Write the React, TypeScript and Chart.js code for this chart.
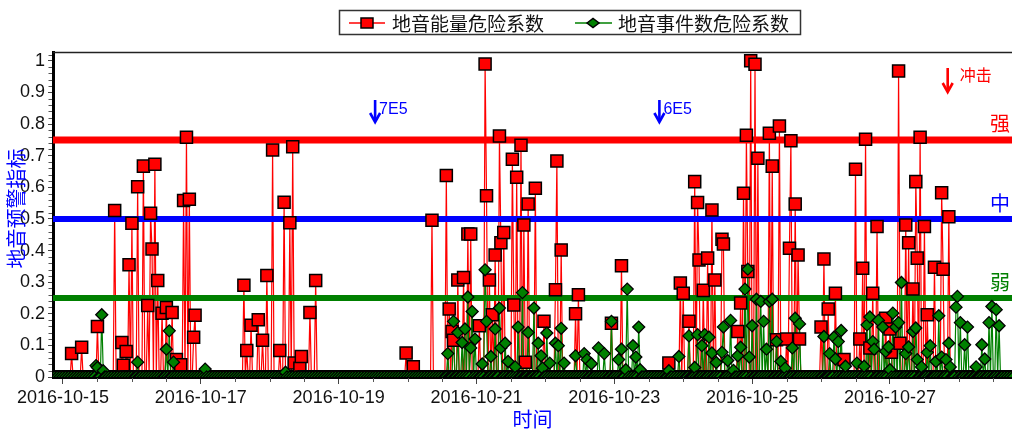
import React, { useEffect, useRef } from 'react';
import { Chart, registerables } from 'chart.js';

Chart.register(...registerables);

// [hour of day, value]
type Pt = [number, number];

const DAY_LABELS = [
  '2016-10-15', '2016-10-16', '2016-10-17', '2016-10-18', '2016-10-19', '2016-10-20', '2016-10-21',
  '2016-10-22', '2016-10-23', '2016-10-24', '2016-10-25', '2016-10-26', '2016-10-27', '2016-10-28',
];
const X_TICK_HOURS = [0, 48, 96, 144, 192, 240, 288];
const Y_TICKS = [0, 0.1, 0.2, 0.3, 0.4, 0.5, 0.6, 0.7, 0.8, 0.9, 1];
const SERIES_NAMES = ['地音能量危险系数', '地音事件数危险系数'];
const AXIS_X_TITLE = '时间';
const AXIS_Y_TITLE = '地音预警指标';
const X_MIN_H = -3.48;
const X_MAX_H = 330.5;
const Y_MAX = 1.028;

const THRESHOLD_VALUES = [0.75, 0.5, 0.25];
const THRESHOLD_LABELS = ['强', '中', '弱'];
const EVENT_HOURS = [108.7, 207.7, 308.1];
const EVENT_LABELS = ['7E5', '6E5', '冲击'];

// 地音能量危险系数 (non-zero readings per day, half-hour resolution)
const energy_1015: Pt[] = [[3, 0.074], [6.5, 0.094], [12, 0.16], [18, 0.527], [20.5, 0.109], [21, 0.037], [22, 0.081], [23, 0.355]];
const energy_1016: Pt[] = [[0, 0.486], [2, 0.602], [4, 0.667], [5.5, 0.226], [6.5, 0.518], [7, 0.405], [8, 0.673], [9, 0.305], [10.5, 0.202], [12, 0.22], [14, 0.204], [15.5, 0.055], [17, 0.039], [18, 0.558], [19, 0.758], [20, 0.562], [21.5, 0.126], [22, 0.195]];
const energy_1017: Pt[] = [[15, 0.29], [16, 0.084], [17.5, 0.164], [20, 0.181], [21.5, 0.116], [23, 0.321]];
const energy_1018: Pt[] = [[1, 0.718], [3.5, 0.084], [5, 0.553], [7, 0.488], [8, 0.728], [8.5, 0.044], [10.5, 0.028], [11, 0.065], [14, 0.204], [16, 0.305]];
const energy_1019: Pt[] = [[23.5, 0.076]];
const energy_1020: Pt[] = [[2, 0.032], [8.5, 0.496], [13.5, 0.637], [14.5, 0.215], [15.5, 0.144], [16, 0.116], [17.5, 0.307], [19.5, 0.315], [21, 0.452], [22, 0.452]];
const energy_1021: Pt[] = [[1, 0.162], [3, 0.99], [3.5, 0.573], [4.5, 0.307], [5.5, 0.197], [6.5, 0.386], [8, 0.762], [8.5, 0.425], [9.5, 0.457], [12.5, 0.689], [13, 0.228], [14, 0.632], [15.5, 0.733], [16.5, 0.481], [17, 0.047], [18, 0.547], [20.5, 0.597], [23.5, 0.176]];
const energy_1022: Pt[] = [[3.5, 0.276], [4, 0.683], [5.5, 0.402], [10.5, 0.2], [11.5, 0.26], [23, 0.17]];
const energy_1023: Pt[] = [[2.5, 0.352], [19, 0.044], [23, 0.297]];
const energy_1024: Pt[] = [[0, 0.265], [2, 0.176], [4, 0.618], [5, 0.552], [5.5, 0.37], [7, 0.274], [8.5, 0.376], [10, 0.528], [11, 0.307], [13.5, 0.436], [14, 0.421], [19, 0.144], [20, 0.234], [21, 0.581], [22, 0.765], [22.5, 0.334], [23.5, 1.0]];
const energy_1025: Pt[] = [[1, 0.989], [2, 0.692], [6, 0.771], [7, 0.667], [8.5, 0.118], [9.5, 0.794], [12, 0.12], [13, 0.407], [13.5, 0.747], [15, 0.547], [16, 0.386], [16.5, 0.12]];
const energy_1026: Pt[] = [[0, 0.158], [1, 0.373], [2.5, 0.215], [5, 0.265], [8, 0.055], [12, 0.657], [13.5, 0.12], [14.5, 0.344], [15.5, 0.752], [17, 0.092], [18, 0.265], [19.5, 0.476], [22.5, 0.186]];
const energy_1027: Pt[] = [[0, 0.152], [0.5, 0.078], [3, 0.968], [3.5, 0.107], [5.5, 0.481], [6.5, 0.425], [8, 0.278], [9, 0.618], [9.5, 0.376], [10.5, 0.758], [12, 0.476], [13, 0.197], [15.5, 0.347], [18, 0.583], [18.5, 0.341], [20.5, 0.507]];
const energy_1028: Pt[] = [];

// 地音事件数危险系数 (non-zero readings per day, half-hour resolution)
const events_1015: Pt[] = [[11.5, 0.036], [12, 0.03], [13.5, 0.197], [14, 0.02]];
const events_1016: Pt[] = [[2, 0.047], [12, 0.088], [13, 0.146], [14.5, 0.047]];
const events_1017: Pt[] = [[1.5, 0.025]];
const events_1018: Pt[] = [[5.5, 0.015]];
const events_1019: Pt[] = [];
const events_1020: Pt[] = [[14, 0.074], [16, 0.176], [17.5, 0.141], [19, 0.109], [20, 0.152], [21, 0.253], [22, 0.092], [22.5, 0.207], [23.5, 0.12]];
const events_1021: Pt[] = [[2, 0.041], [3, 0.339], [3.5, 0.176], [5, 0.065], [6.5, 0.152], [8, 0.218], [8.5, 0.092], [10, 0.107], [11, 0.049], [13.5, 0.032], [14.5, 0.158], [16, 0.267], [18, 0.141], [20, 0.218], [21.5, 0.107], [22.5, 0.067], [23, 0.028]];
const events_1022: Pt[] = [[0.5, 0.139], [1.5, 0.044], [3.5, 0.107], [4.5, 0.099], [5.5, 0.154], [6.5, 0.044], [10.5, 0.067], [13.5, 0.074], [14.5, 0.055], [16, 0.042], [18.5, 0.092], [20.5, 0.074], [23, 0.176]];
const events_1023: Pt[] = [[1.5, 0.055], [2.5, 0.088], [4, 0.023], [4.5, 0.278], [6.5, 0.099], [7.5, 0.063], [8.5, 0.158], [9, 0.023], [19, 0.02], [22.5, 0.065]];
const events_1024: Pt[] = [[2, 0.13], [4, 0.03], [5, 0.134], [6.5, 0.099], [7.5, 0.134], [9, 0.126], [10, 0.076], [11.5, 0.046], [13.5, 0.078], [14, 0.158], [15.5, 0.052], [16.5, 0.179], [17.5, 0.021], [19, 0.067], [20, 0.094], [21.5, 0.278], [22.5, 0.341], [23, 0.063]];
const events_1025: Pt[] = [[0, 0.162], [1.5, 0.246], [3, 0.239], [4, 0.176], [5, 0.088], [6, 0.239], [7, 0.246], [8.5, 0.112], [10, 0.049], [11.5, 0.028], [14, 0.092], [15, 0.186], [16.5, 0.168]];
const events_1026: Pt[] = [[1, 0.128], [3, 0.074], [4.5, 0.126], [5, 0.057], [6, 0.112], [7, 0.147], [8.5, 0.034], [12.5, 0.044], [15, 0.034], [16, 0.165], [17, 0.19], [18, 0.112], [18.5, 0.088], [20, 0.179], [21.5, 0.158], [22.5, 0.081], [23.5, 0.095]];
const events_1027: Pt[] = [[0, 0.023], [1, 0.202], [2, 0.158], [3, 0.172], [4, 0.299], [5.5, 0.074], [6.5, 0.095], [8, 0.144], [9, 0.155], [9.5, 0.055], [11, 0.032], [13, 0.078], [14, 0.099], [16, 0.049], [17, 0.194], [18, 0.063], [19.5, 0.055], [20.5, 0.107], [21, 0.032], [23, 0.221], [23.5, 0.255]];
const events_1028: Pt[] = [[0.5, 0.172], [2, 0.102], [3, 0.158], [6, 0.032], [8, 0.102], [9, 0.057], [10.5, 0.172], [11.5, 0.223], [13, 0.213], [14, 0.162]];

const energyDays = [energy_1015, energy_1016, energy_1017, energy_1018, energy_1019, energy_1020, energy_1021, energy_1022, energy_1023, energy_1024, energy_1025, energy_1026, energy_1027, energy_1028];
const eventsDays = [events_1015, events_1016, events_1017, events_1018, events_1019, events_1020, events_1021, events_1022, events_1023, events_1024, events_1025, events_1026, events_1027, events_1028];

// Hourly readings read 0 unless listed above; a listed half-hour reading
// drops back to 0 in the neighbouring half-hour.
function buildSeries(days: Pt[][]) {
  const m = new Map<number, number>();
  days.forEach((pts, d) => pts.forEach(([hr, v]) => m.set(Math.round((d * 24 + hr) * 2), v)));
  const out: { x: number; y: number }[] = [];
  const k0 = Math.floor(X_MIN_H * 2);
  const k1 = Math.ceil(X_MAX_H * 2) + 2;
  for (let k = k0; k <= k1; k++) {
    const v = m.get(k);
    if (v !== undefined) out.push({ x: k / 2, y: v });
    else if (Math.abs(k % 2) === 0 || m.has(k - 1) || m.has(k + 1)) out.push({ x: k / 2, y: 0 });
  }
  return out;
}

const LATIN = '"Liberation Sans", Arial, sans-serif';
const CJK = '"Noto Sans CJK SC", "Noto Sans", sans-serif';
const TH_COLORS = ['#FF0000', '#0000FF', '#008000'];
const TH_WIDTHS = [7, 6, 6];

const overlayPlugin = {
  id: 'overlay',
  afterDatasetDraw(chart: any, args: any) {
    if (args.index !== 1) return;
    const { ctx, chartArea: a } = chart;
    const y = chart.scales.y;
    ctx.save();
    ctx.beginPath();
    ctx.rect(a.left, a.top, a.right - a.left, a.bottom - a.top);
    ctx.clip();
    THRESHOLD_VALUES.forEach((v, i) => {
      const py = y.getPixelForValue(v);
      ctx.strokeStyle = TH_COLORS[i];
      ctx.lineWidth = TH_WIDTHS[i];
      ctx.beginPath();
      ctx.moveTo(a.left, py);
      ctx.lineTo(a.right, py);
      ctx.stroke();
    });
    ctx.restore();
  },
  afterDraw(chart: any) {
    const { ctx, chartArea: a } = chart;
    const x = chart.scales.x;
    const y = chart.scales.y;
    ctx.save();

    // top frame line
    ctx.strokeStyle = '#222';
    ctx.lineWidth = 1.3;
    ctx.beginPath();
    ctx.moveTo(a.left, a.top + 0.5);
    ctx.lineTo(a.right, a.top + 0.5);
    ctx.stroke();

    // minor ticks
    ctx.strokeStyle = '#555';
    ctx.lineWidth = 1;
    for (let i = 1; i <= 51; i++) {
      if (i % 5 === 0) continue;
      const v = i * 0.02;
      if (v > Y_MAX) break;
      const py = Math.round(y.getPixelForValue(v)) + 0.5;
      ctx.beginPath();
      ctx.moveTo(a.left - 4.5, py);
      ctx.lineTo(a.left - 1, py);
      ctx.stroke();
    }
    for (let h = 12; h <= X_MAX_H; h += 12) {
      if (h % 48 === 0) continue;
      const px = Math.round(x.getPixelForValue(h)) + 0.5;
      ctx.beginPath();
      ctx.moveTo(px, a.bottom + 1);
      ctx.lineTo(px, a.bottom + 5);
      ctx.stroke();
    }

    // threshold labels
    ctx.textAlign = 'center';
    ctx.textBaseline = 'middle';
    ctx.font = `20px ${CJK}`;
    THRESHOLD_VALUES.forEach((v, i) => {
      ctx.fillStyle = TH_COLORS[i];
      ctx.fillText(THRESHOLD_LABELS[i], 1000, y.getPixelForValue(v) - 16);
    });

    // event arrows
    const drawArrow = (px: number, top: number, bottom: number, color: string) => {
      ctx.strokeStyle = color;
      ctx.lineWidth = 2.6;
      ctx.lineCap = 'butt';
      ctx.beginPath();
      ctx.moveTo(px, top);
      ctx.lineTo(px, bottom - 2);
      ctx.stroke();
      ctx.lineJoin = 'miter';
      ctx.beginPath();
      ctx.moveTo(px - 5, bottom - 10);
      ctx.lineTo(px, bottom - 1);
      ctx.lineTo(px + 5, bottom - 10);
      ctx.stroke();
    };
    EVENT_HOURS.forEach((h, i) => {
      const px = x.getPixelForValue(h);
      const isImpact = i === EVENT_HOURS.length - 1;
      if (isImpact) {
        drawArrow(px, 68, 93, '#FF0000');
        ctx.fillStyle = '#FF0000';
        ctx.font = `16px ${CJK}`;
        ctx.textAlign = 'left';
        ctx.textBaseline = 'middle';
        ctx.fillText(EVENT_LABELS[i], px + 12, 75);
      } else {
        drawArrow(px, 100, 123, '#0000FF');
        ctx.fillStyle = '#0000FF';
        ctx.font = `16px ${LATIN}`;
        ctx.textAlign = 'left';
        ctx.textBaseline = 'alphabetic';
        ctx.fillText(EVENT_LABELS[i], px + 4, 113.5);
      }
    });

    // axis titles
    ctx.fillStyle = '#0000FF';
    ctx.font = `20px ${CJK}`;
    ctx.textAlign = 'center';
    ctx.textBaseline = 'middle';
    ctx.fillText(AXIS_X_TITLE, (a.left + a.right) / 2, 419);
    ctx.save();
    ctx.translate(16.5, 208.5);
    ctx.rotate(-Math.PI / 2);
    ctx.fillText(AXIS_Y_TITLE, 0, 0);
    ctx.restore();

    // legend
    ctx.strokeStyle = '#333';
    ctx.lineWidth = 1.5;
    ctx.strokeRect(339.5, 10.5, 461, 24);
    const ly = 23;
    ctx.strokeStyle = '#FF0000';
    ctx.beginPath();
    ctx.moveTo(349, ly);
    ctx.lineTo(385, ly);
    ctx.stroke();
    ctx.fillStyle = '#FF0000';
    ctx.fillRect(361, ly - 5, 12, 10);
    ctx.strokeStyle = '#000';
    ctx.strokeRect(361, ly - 5, 12, 10);
    ctx.strokeStyle = '#008000';
    ctx.beginPath();
    ctx.moveTo(575, ly);
    ctx.lineTo(612, ly);
    ctx.stroke();
    ctx.fillStyle = '#008000';
    ctx.beginPath();
    ctx.moveTo(593 - 6, ly);
    ctx.lineTo(593, ly - 4.5);
    ctx.lineTo(593 + 6, ly);
    ctx.lineTo(593, ly + 4.5);
    ctx.closePath();
    ctx.fill();
    ctx.strokeStyle = '#000';
    ctx.stroke();
    ctx.fillStyle = '#111';
    ctx.font = `19px ${CJK}`;
    ctx.textAlign = 'left';
    ctx.textBaseline = 'middle';
    ctx.fillText(SERIES_NAMES[0], 392, ly + 0.5);
    ctx.fillText(SERIES_NAMES[1], 618, ly + 0.5);

    ctx.restore();
  },
};

export default function App() {
  const ref = useRef<HTMLCanvasElement | null>(null);

  useEffect(() => {
    if (!ref.current) return;
    const energy = buildSeries(energyDays);
    const events = buildSeries(eventsDays);
    const chart = new Chart(ref.current, {
      type: 'line',
      data: {
        datasets: [
          { label: SERIES_NAMES[0], data: energy, borderColor: '#FF0000', borderWidth: 1.2, pointRadius: 0, order: 4 },
          { label: SERIES_NAMES[1], data: events, borderColor: '#008000', borderWidth: 1.2, pointRadius: 0, order: 3 },
          {
            label: SERIES_NAMES[0] + ' pts', data: energy, showLine: false, pointStyle: 'rect', pointRadius: 8.5,
            pointBackgroundColor: '#FF0000', pointBorderColor: '#000', pointBorderWidth: 1.5, order: 2,
          },
          {
            label: SERIES_NAMES[1] + ' pts', data: events, showLine: false, pointStyle: 'rectRot', pointRadius: 6,
            pointBackgroundColor: '#008000', pointBorderColor: '#000', pointBorderWidth: 1.3, order: 1,
          },
        ] as any,
      },
      options: {
        animation: false,
        responsive: false,
        devicePixelRatio: 1,
        events: [],
        layout: { autoPadding: false, padding: { top: 52, left: 0, right: 0, bottom: 0 } },
        plugins: { legend: { display: false }, tooltip: { enabled: false } },
        scales: {
          x: {
            type: 'linear',
            min: X_MIN_H,
            max: X_MAX_H,
            z: 1,
            afterBuildTicks: (s: any) => { s.ticks = X_TICK_HOURS.map((v) => ({ value: v })); },
            afterFit: (s: any) => { s.height = 52; s.paddingLeft = 0; s.paddingRight = 0; },
            border: { display: true, color: '#000', width: 3 },
            grid: { display: true, drawOnChartArea: false, drawTicks: true, tickLength: 7, tickColor: '#444', tickWidth: 1 },
            ticks: {
              autoSkip: false,
              maxRotation: 0,
              padding: 3,
              color: '#111',
              font: { family: LATIN, size: 18 },
              callback: (v: any) => DAY_LABELS[Math.round(Number(v) / 24)] ?? '',
            },
          },
          y: {
            type: 'linear',
            min: 0,
            max: Y_MAX,
            z: 1,
            afterBuildTicks: (s: any) => { s.ticks = Y_TICKS.map((v) => ({ value: v })); },
            afterFit: (s: any) => { s.width = 53; s.paddingTop = 0; s.paddingBottom = 0; },
            border: { display: true, color: '#000', width: 3 },
            grid: { display: true, drawOnChartArea: false, drawTicks: true, tickLength: 5, tickColor: '#444', tickWidth: 1 },
            ticks: {
              autoSkip: false,
              padding: 3,
              color: '#111',
              font: { family: LATIN, size: 18 },
              callback: (v: any) => String(Number(Number(v).toFixed(1))),
            },
          },
        },
      } as any,
      plugins: [overlayPlugin],
    });
    return () => chart.destroy();
  }, []);

  return (
    <div style={{ position: 'absolute', left: 0, top: 0, width: 1012, height: 429, background: '#fff' }}>
      <canvas ref={ref} width={1012} height={429} style={{ display: 'block', width: 1012, height: 429 }} />
    </div>
  );
}
